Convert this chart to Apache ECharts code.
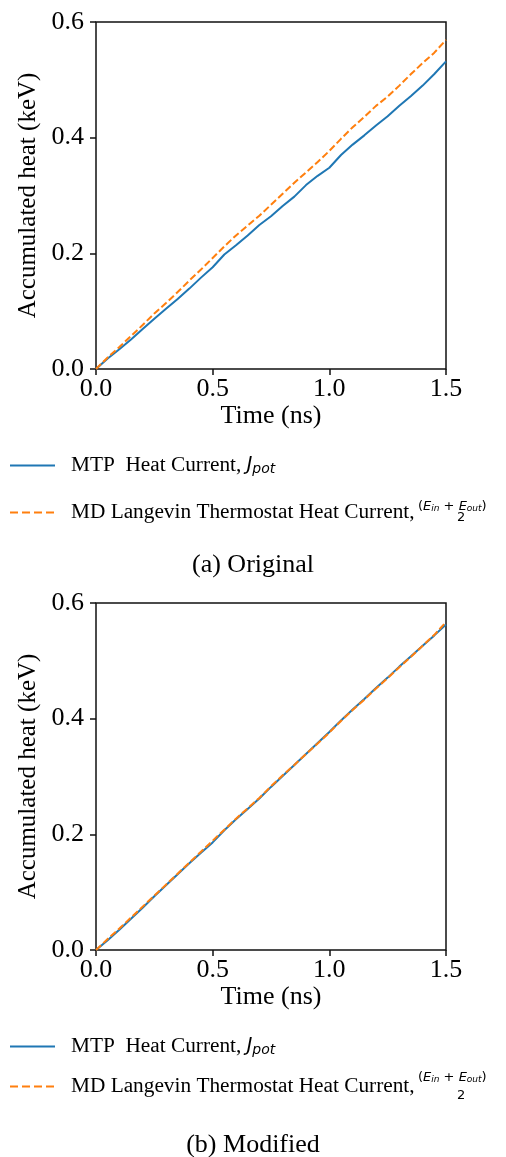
<!DOCTYPE html>
<html>
<head>
<meta charset="utf-8">
<script src="https://cdn.jsdelivr.net/npm/echarts@6/dist/echarts.min.js"></script>
<style>
html,body{margin:0;padding:0;background:#fff;}
#c{width:506px;height:1157px;}
</style>
</head>
<body>
<div id="c"></div>
<script>
const nameA = 'MTP Heat Current';
const nameB = 'MD Langevin Thermostat Heat Current';
const times = [0,0.05,0.10,0.15,0.20,0.25,0.30,0.35,0.40,0.45,0.50,0.55,0.60,0.65,0.70,0.75,0.80,0.85,0.90,0.95,1.00,1.05,1.10,1.15,1.20,1.25,1.30,1.35,1.40,1.45,1.50];
const origMTP = [0,0.018,0.034,0.051,0.069,0.087,0.104,0.121,0.139,0.158,0.176,0.198,0.214,0.231,0.249,0.264,0.282,0.298,0.318,0.334,0.348,0.370,0.388,0.404,0.421,0.437,0.455,0.472,0.490,0.510,0.532];
const origMD = [0,0.020,0.038,0.057,0.076,0.096,0.114,0.133,0.153,0.172,0.192,0.212,0.231,0.248,0.265,0.284,0.303,0.322,0.340,0.358,0.377,0.398,0.418,0.436,0.455,0.471,0.490,0.510,0.529,0.547,0.569];
const modMTP = [0,0.017,0.035,0.054,0.073,0.093,0.112,0.131,0.150,0.168,0.186,0.207,0.226,0.244,0.262,0.282,0.301,0.320,0.339,0.358,0.377,0.397,0.416,0.434,0.453,0.471,0.490,0.508,0.526,0.544,0.563];
const modMD = [0,0.019,0.037,0.056,0.075,0.094,0.113,0.132,0.151,0.170,0.189,0.208,0.227,0.245,0.263,0.283,0.302,0.320,0.339,0.357,0.376,0.396,0.415,0.433,0.452,0.470,0.489,0.507,0.526,0.545,0.567];
const xTicks = {min:0, max:1.5, interval:0.5};
const yTicks = {min:0, max:0.6, interval:0.2};
const captions = ['(a) Original', '(b) Modified'];

const serif = 'Liberation Serif';
const sans = 'DejaVu Sans';
const BLUE = '#1f77b4', ORANGE = '#ff7f0e';

const chart = echarts.init(document.getElementById('c'), null, {renderer:'canvas'});

function pairs(v){ return times.map((t,i)=>[t, v[i]]); }

const grids = [
  {left:96, top:22, width:350, height:347},
  {left:96, top:603, width:350, height:347}
].map(g => Object.assign(g, {show:true, borderColor:'#111', borderWidth:1.5, backgroundColor:'transparent'}));

function xAx(i){
  return {type:'value', gridIndex:i, min:xTicks.min, max:xTicks.max, interval:xTicks.interval,
    name:'Time (ns)', nameLocation:'middle', nameGap:30,
    nameTextStyle:{fontFamily:serif, fontSize:26, color:'#000'},
    axisLine:{show:false}, splitLine:{show:false},
    axisTick:{show:true, length:6, lineStyle:{color:'#111', width:1.5}},
    axisLabel:{fontFamily:serif, fontSize:26, color:'#000', margin:7, formatter:v=>v.toFixed(1)}};
}
function yAx(i){
  return {type:'value', gridIndex:i, min:yTicks.min, max:yTicks.max, interval:yTicks.interval,
    name:'Accumulated heat (keV)', nameLocation:'middle', nameGap:50,
    nameTextStyle:{fontFamily:serif, fontSize:25, color:'#000'},
    axisLine:{show:false}, splitLine:{show:false},
    axisTick:{show:true, length:6, lineStyle:{color:'#111', width:1.5}},
    axisLabel:{fontFamily:serif, fontSize:26, color:'#000', margin:12, formatter:v=>v.toFixed(1)}};
}

function ser(name, data, i, color, dashed){
  return {type:'line', name:name, xAxisIndex:i, yAxisIndex:i, data:pairs(data),
    symbol:'none', showSymbol:false, animation:false,
    lineStyle:{color:color, width:2, type: dashed ? [7,3] : 'solid'},
    itemStyle:{color:color}};
}

const legendText = {fontFamily:serif, fontSize:21.3, color:'#000',
  rich:{
    j:{fontFamily:sans, fontStyle:'italic', fontSize:19, color:'#000'},
    sub:{fontFamily:sans, fontStyle:'italic', fontSize:14, color:'#000', padding:[8,0,0,0]}
  }};
function legendFmt(n){ return n === nameA ? 'MTP  Heat Current, {j|J}{sub|pot}' : 'MD Langevin Thermostat Heat Current,'; }
function leg(name, top, dashed){
  return {data:[name], left:9, top:top, padding:0, orient:'vertical', itemWidth:45, itemHeight:14,
    itemStyle:{opacity:0, color:'rgba(0,0,0,0)', borderWidth:0},
    lineStyle:{width:2, type: dashed ? [8,4] : 'solid'},
    textStyle:Object.assign({padding:[0,0,0,11]}, legendText), formatter:legendFmt, selectedMode:false};
}

function fraction(x, yNum, yDen){
  const rich = {
    p:{fontFamily:sans, fontSize:13, color:'#000'},
    e:{fontFamily:sans, fontStyle:'italic', fontSize:13, color:'#000'},
    s:{fontFamily:sans, fontStyle:'italic', fontSize:9, color:'#000', padding:[5,0,0,0]}
  };
  return [
    {type:'text', left:x, top:yNum-8, style:{text:'{p|(}{e|E}{s|in}{p| + }{e|E}{s|out}{p|)}', rich:rich, fill:'#000'}},
    {type:'text', left:x+39, top:yDen-7, style:{text:'2', fontFamily:sans, fontSize:13, fill:'#000'}}
  ];
}

const option = {
  backgroundColor:'#fff',
  animation:false,
  grid:grids,
  xAxis:[xAx(0), xAx(1)],
  yAxis:[yAx(0), yAx(1)],
  legend:[leg(nameA, 455, false), leg(nameB, 502, true), leg(nameA, 1036, false), leg(nameB, 1076, true)],
  series:[
    ser(nameA, origMTP, 0, BLUE, false),
    ser(nameB, origMD, 0, ORANGE, true),
    ser(nameA, modMTP, 1, BLUE, false),
    ser(nameB, modMD, 1, ORANGE, true)
  ],
  graphic:[].concat(
    fraction(418, 508, 518),
    fraction(418, 1079, 1096),
    [
      {type:'text', left:'center', top:552, style:{text:captions[0], fontFamily:serif, fontSize:26, fill:'#000'}},
      {type:'text', left:'center', top:1132, style:{text:captions[1], fontFamily:serif, fontSize:26, fill:'#000'}}
    ])
};
chart.setOption(option);
</script>
</body>
</html>
